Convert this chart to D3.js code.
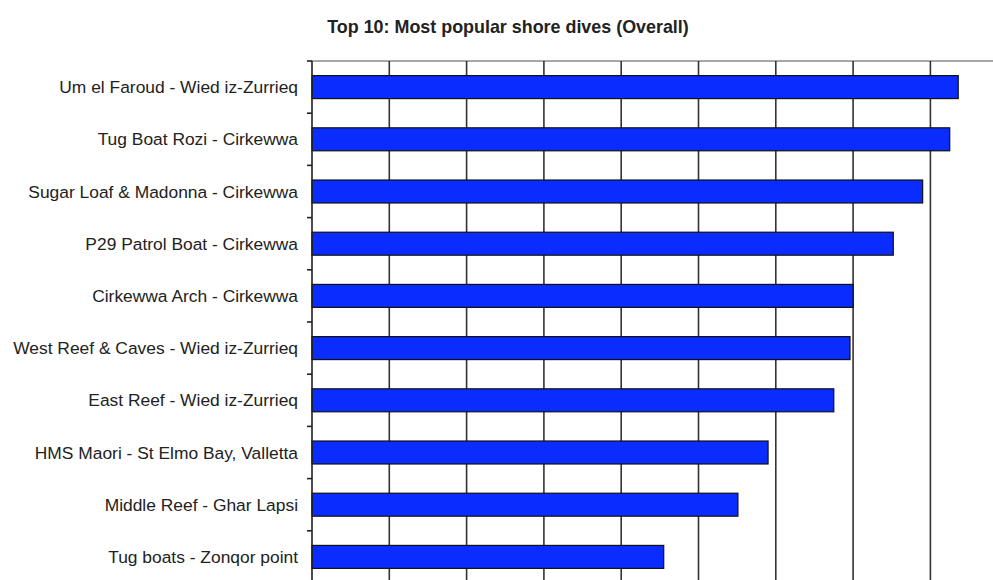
<!DOCTYPE html>
<html>
<head>
<meta charset="utf-8">
<script src="https://cdn.jsdelivr.net/npm/d3@7"></script>
<style>
  body { margin: 0; background: #fff; }
  svg { display: block; }
</style>
</head>
<body>
<script>
// Top 10 shore dives
var sites = [
  'Um el Faroud - Wied iz-Zurrieq',
  'Tug Boat Rozi - Cirkewwa',
  'Sugar Loaf & Madonna - Cirkewwa',
  'P29 Patrol Boat - Cirkewwa',
  'Cirkewwa Arch - Cirkewwa',
  'West Reef & Caves - Wied iz-Zurrieq',
  'East Reef - Wied iz-Zurrieq',
  'HMS Maori - St Elmo Bay, Valletta',
  'Middle Reef - Ghar Lapsi',
  'Tug boats - Zonqor point'
]
var votes = [83.6, 82.5, 79, 75.2, 70, 69.6, 67.5, 59, 55.1, 45.5]
var gridTicks = [10, 20, 30, 40, 50, 60, 70, 80, 90]
var title = 'Top 10: Most popular shore dives (Overall)'

var width = 993
  , height = 580
  , margin = { top: 61, left: 312 }
  , font = 'Liberation Sans, Arial, sans-serif'
  , svg = d3.select('body').append('svg').attr('width', width).attr('height', height)

var x = d3.scaleLinear().domain([0, 90]).range([margin.left, margin.left + 77.3 * 9])
var y = d3.scaleBand().domain(sites).range([margin.top, margin.top + 52.2 * 10])
  .paddingInner(0.56).paddingOuter(0.28)

svg.append('text')
  .attr('x', 508).attr('y', 33)
  .attr('text-anchor', 'middle')
  .attr('font-family', font)
  .attr('font-weight', 'bold')
  .attr('font-size', 17.9)
  .attr('fill', '#222')
  .text(title)

// top border of the plot area
svg.append('line')
  .attr('x1', x(0)).attr('x2', width)
  .attr('y1', margin.top).attr('y2', margin.top)
  .attr('stroke', '#8a8a8a').attr('stroke-width', 1.5)

// vertical gridlines
svg.append('g').selectAll('line').data(gridTicks).enter().append('line')
  .attr('x1', function(d) { return x(d) }).attr('x2', function(d) { return x(d) })
  .attr('y1', margin.top).attr('y2', height)
  .attr('stroke', '#333').attr('stroke-width', 1.6)

// bars
svg.append('g').selectAll('rect').data(votes).enter().append('rect')
  .attr('x', x(0))
  .attr('y', function(d, i) { return y(sites[i]) })
  .attr('width', function(d) { return x(d) - x(0) })
  .attr('height', y.bandwidth())
  .attr('fill', '#0a2cff')
  .attr('stroke', '#111').attr('stroke-width', 1.2)

// category axis, ticks sit between the bands
var yAxis = svg.append('g').attr('transform', 'translate(' + x(0) + ',0)')
yAxis.append('line')
  .attr('y1', margin.top).attr('y2', height)
  .attr('stroke', '#222').attr('stroke-width', 1.6)
var bounds = d3.range(sites.length + 1).map(function(i) { return margin.top + i * y.step() })
yAxis.selectAll('.tick').data(bounds).enter().append('line')
  .attr('class', 'tick')
  .attr('x1', -5).attr('x2', 0)
  .attr('y1', function(d) { return d }).attr('y2', function(d) { return d })
  .attr('stroke', '#222').attr('stroke-width', 1.6)
yAxis.selectAll('text').data(sites).enter().append('text')
  .attr('x', -14)
  .attr('y', function(d) { return y(d) + y.bandwidth() / 2 })
  .attr('dy', '0.35em')
  .attr('text-anchor', 'end')
  .attr('font-family', font)
  .attr('font-size', 17.4)
  .attr('fill', '#222')
  .text(function(d) { return d })
</script>
</body>
</html>
